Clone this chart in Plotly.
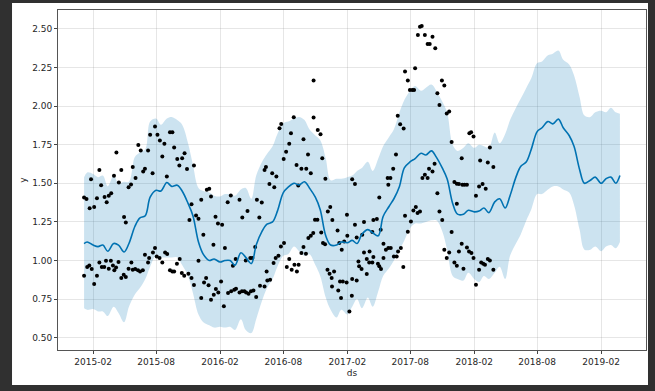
import plotly.graph_objects as go

obs_points = [
    ("2015-01-06", 1.408), ("2015-01-06", 0.901), ("2015-01-13", 1.398), ("2015-01-15", 0.958),
    ("2015-01-21", 0.968), ("2015-01-22", 1.339), ("2015-01-26", 1.527), ("2015-01-28", 0.945),
    ("2015-02-04", 1.346), ("2015-02-04", 0.848), ("2015-02-12", 1.404), ("2015-02-12", 0.901),
    ("2015-02-19", 1.587), ("2015-02-19", 0.987), ("2015-02-24", 1.487), ("2015-02-26", 0.958),
    ("2015-03-05", 0.958), ("2015-03-06", 1.411), ("2015-03-10", 0.998), ("2015-03-12", 1.378),
    ("2015-03-18", 1.419), ("2015-03-18", 0.947), ("2015-03-24", 0.998), ("2015-03-25", 1.436),
    ("2015-03-30", 0.968), ("2015-04-02", 1.549), ("2015-04-03", 0.936), ("2015-04-08", 0.955),
    ("2015-04-09", 1.700), ("2015-04-15", 0.990), ("2015-04-16", 1.505), ("2015-04-23", 1.587),
    ("2015-04-23", 0.886), ("2015-04-30", 0.908), ("2015-05-01", 1.281), ("2015-05-06", 1.246),
    ("2015-05-06", 0.893), ("2015-05-14", 1.475), ("2015-05-14", 0.947), ("2015-05-21", 1.492),
    ("2015-05-22", 0.987), ("2015-05-26", 1.605), ("2015-05-26", 0.940), ("2015-06-02", 0.945),
    ("2015-06-03", 1.534), ("2015-06-10", 0.936), ("2015-06-11", 1.749), ("2015-06-16", 0.929),
    ("2015-06-18", 1.712), ("2015-06-24", 0.936), ("2015-06-25", 1.576), ("2015-06-30", 1.594),
    ("2015-06-30", 1.037), ("2015-07-09", 1.712), ("2015-07-09", 0.987), ("2015-07-12", 1.016),
    ("2015-07-15", 1.814), ("2015-07-22", 1.566), ("2015-07-23", 1.052), ("2015-07-29", 1.868),
    ("2015-07-29", 1.081), ("2015-08-03", 1.026), ("2015-08-05", 1.814), ("2015-08-11", 1.016),
    ("2015-08-12", 1.777), ("2015-08-19", 1.673), ("2015-08-19", 0.987), ("2015-08-25", 1.756),
    ("2015-08-27", 1.052), ("2015-09-01", 1.544), ("2015-09-02", 1.042), ("2015-09-10", 1.831),
    ("2015-09-10", 0.936), ("2015-09-17", 1.831), ("2015-09-17", 0.929), ("2015-09-22", 1.732),
    ("2015-09-22", 0.929), ("2015-09-30", 0.979), ("2015-10-01", 1.657), ("2015-10-07", 1.615),
    ("2015-10-08", 1.009), ("2015-10-14", 0.919), ("2015-10-15", 1.663), ("2015-10-21", 0.901),
    ("2015-10-22", 1.695), ("2015-10-29", 1.592), ("2015-11-02", 0.914), ("2015-11-05", 1.262),
    ("2015-11-11", 1.365), ("2015-11-11", 0.886), ("2015-11-18", 1.615), ("2015-11-18", 0.841),
    ("2015-11-24", 1.292), ("2015-12-01", 1.270), ("2015-12-01", 0.998), ("2015-12-09", 1.393),
    ("2015-12-09", 0.757), ("2015-12-15", 1.167), ("2015-12-17", 0.858), ("2015-12-23", 0.886),
    ("2015-12-25", 1.458), ("2015-12-30", 0.839), ("2016-01-01", 1.464), ("2016-01-06", 1.415),
    ("2016-01-06", 0.746), ("2016-01-13", 1.102), ("2016-01-14", 0.778), ("2016-01-19", 1.283),
    ("2016-01-20", 0.815), ("2016-01-26", 1.240), ("2016-01-27", 0.793), ("2016-02-04", 0.864),
    ("2016-02-07", 1.231), ("2016-02-12", 0.703), ("2016-02-15", 1.081), ("2016-02-23", 1.378),
    ("2016-02-24", 0.789), ("2016-03-03", 1.421), ("2016-03-04", 0.800), ("2016-03-09", 0.966),
    ("2016-03-13", 0.810), ("2016-03-17", 1.009), ("2016-03-18", 0.817), ("2016-03-28", 1.393),
    ("2016-03-28", 0.793), ("2016-04-04", 0.800), ("2016-04-05", 1.279), ("2016-04-11", 0.800),
    ("2016-04-15", 1.000), ("2016-04-16", 0.793), ("2016-04-20", 1.320), ("2016-04-23", 0.785),
    ("2016-04-28", 1.016), ("2016-04-30", 0.800), ("2016-05-04", 1.016), ("2016-05-07", 0.806),
    ("2016-05-12", 1.087), ("2016-05-15", 0.763), ("2016-05-17", 1.393), ("2016-05-24", 1.279),
    ("2016-05-26", 0.837), ("2016-05-31", 1.376), ("2016-06-08", 1.587), ("2016-06-08", 0.832),
    ("2016-06-12", 1.605), ("2016-06-14", 0.929), ("2016-06-16", 0.871), ("2016-06-22", 1.495),
    ("2016-06-24", 0.875), ("2016-06-30", 1.566), ("2016-07-04", 0.983), ("2016-07-06", 1.475),
    ("2016-07-10", 1.016), ("2016-07-12", 1.544), ("2016-07-18", 1.031), ("2016-07-21", 1.857),
    ("2016-07-25", 1.091), ("2016-07-26", 1.885), ("2016-08-02", 1.657), ("2016-08-03", 1.113),
    ("2016-08-09", 1.704), ("2016-08-11", 0.958), ("2016-08-18", 1.756), ("2016-08-18", 1.009),
    ("2016-08-23", 1.825), ("2016-08-25", 0.940), ("2016-08-31", 1.928), ("2016-09-02", 0.972),
    ("2016-09-08", 1.618), ("2016-09-09", 0.929), ("2016-09-13", 1.486), ("2016-09-14", 0.972),
    ("2016-09-22", 1.594), ("2016-09-22", 1.048), ("2016-09-28", 1.786), ("2016-09-28", 1.087),
    ("2016-10-05", 1.044), ("2016-10-06", 1.594), ("2016-10-11", 1.686), ("2016-10-12", 1.145),
    ("2016-10-19", 1.566), ("2016-10-19", 1.160), ("2016-10-26", 1.178), ("2016-10-27", 1.926),
    ("2016-10-27", 2.166), ("2016-10-31", 1.264), ("2016-11-07", 1.264), ("2016-11-08", 1.846),
    ("2016-11-16", 1.818), ("2016-11-18", 1.182), ("2016-11-21", 1.663), ("2016-11-23", 1.113),
    ("2016-11-29", 1.106), ("2016-11-30", 1.529), ("2016-12-06", 0.940), ("2016-12-07", 1.318),
    ("2016-12-12", 0.914), ("2016-12-14", 1.346), ("2016-12-18", 0.886), ("2016-12-19", 0.832),
    ("2016-12-20", 1.262), ("2016-12-25", 0.929), ("2017-01-04", 1.195), ("2017-01-06", 0.806),
    ("2017-01-09", 1.113), ("2017-01-11", 0.864), ("2017-01-14", 0.757), ("2017-01-16", 1.069),
    ("2017-01-19", 0.864), ("2017-01-23", 1.123), ("2017-01-30", 0.858), ("2017-01-31", 1.296),
    ("2017-02-01", 1.160), ("2017-02-07", 0.670), ("2017-02-14", 0.772), ("2017-02-15", 0.880),
    ("2017-02-15", 1.527), ("2017-02-23", 1.495), ("2017-02-23", 1.231), ("2017-02-28", 0.871),
    ("2017-02-28", 1.149), ("2017-03-05", 0.994), ("2017-03-07", 0.962), ("2017-03-14", 0.945),
    ("2017-03-16", 1.167), ("2017-03-21", 1.052), ("2017-03-21", 1.249), ("2017-03-29", 1.009),
    ("2017-03-29", 0.912), ("2017-04-05", 0.987), ("2017-04-06", 1.058), ("2017-04-14", 0.987),
    ("2017-04-14", 1.184), ("2017-04-17", 1.022), ("2017-04-17", 1.262), ("2017-04-27", 1.268),
    ("2017-04-30", 0.979), ("2017-05-04", 1.408), ("2017-05-04", 0.962), ("2017-05-08", 1.199),
    ("2017-05-09", 0.945), ("2017-05-16", 1.108), ("2017-05-16", 1.016), ("2017-05-23", 1.069),
    ("2017-05-28", 1.534), ("2017-05-30", 1.490), ("2017-05-30", 1.081), ("2017-06-05", 1.534),
    ("2017-06-06", 1.081), ("2017-06-13", 1.594), ("2017-06-15", 1.026), ("2017-06-21", 1.686),
    ("2017-06-23", 1.026), ("2017-06-26", 1.937), ("2017-06-27", 1.058), ("2017-07-03", 1.883),
    ("2017-07-05", 1.081), ("2017-07-12", 0.958), ("2017-07-13", 1.855), ("2017-07-17", 2.224),
    ("2017-07-17", 1.290), ("2017-07-25", 2.166), ("2017-07-25", 1.186), ("2017-07-31", 2.105),
    ("2017-08-03", 1.253), ("2017-08-07", 2.105), ("2017-08-10", 1.324), ("2017-08-12", 2.105),
    ("2017-08-15", 2.246), ("2017-08-17", 1.346), ("2017-08-22", 1.307), ("2017-08-23", 2.461),
    ("2017-08-29", 2.515), ("2017-08-29", 1.318), ("2017-09-03", 2.519), ("2017-09-05", 1.534),
    ("2017-09-12", 2.461), ("2017-09-12", 1.555), ("2017-09-20", 2.403), ("2017-09-20", 1.534),
    ("2017-09-24", 1.594), ("2017-09-26", 2.403), ("2017-10-04", 2.450), ("2017-10-04", 1.576),
    ("2017-10-10", 1.626), ("2017-10-12", 2.375), ("2017-10-18", 2.084), ("2017-10-18", 1.436),
    ("2017-10-24", 2.008), ("2017-10-24", 1.318), ("2017-10-31", 2.166), ("2017-11-01", 1.262),
    ("2017-11-07", 2.133), ("2017-11-07", 1.069), ("2017-11-14", 1.952), ("2017-11-14", 1.016),
    ("2017-11-21", 1.965), ("2017-11-21", 1.052), ("2017-11-28", 1.767), ("2017-11-28", 1.184),
    ("2017-12-06", 1.508), ("2017-12-06", 0.987), ("2017-12-13", 1.497), ("2017-12-13", 1.367),
    ("2017-12-13", 0.966), ("2017-12-19", 1.495), ("2017-12-19", 1.058), ("2017-12-27", 1.663),
    ("2017-12-27", 1.108), ("2017-12-29", 1.490), ("2018-01-01", 0.947), ("2018-01-04", 1.490),
    ("2018-01-11", 1.490), ("2018-01-11", 1.084), ("2018-01-17", 1.058), ("2018-01-18", 1.825),
    ("2018-01-23", 1.831), ("2018-01-24", 1.048), ("2018-01-30", 1.803), ("2018-01-30", 1.016),
    ("2018-02-06", 1.419), ("2018-02-06", 0.843), ("2018-02-15", 1.479), ("2018-02-15", 0.940),
    ("2018-02-18", 1.648), ("2018-02-21", 0.987), ("2018-02-25", 1.495), ("2018-02-27", 0.979),
    ("2018-03-04", 0.972), ("2018-03-06", 1.464), ("2018-03-12", 1.635), ("2018-03-12", 1.009),
    ("2018-03-18", 1.732), ("2018-03-18", 1.000), ("2018-03-28", 1.605), ("2018-03-28", 0.940),
]

# ---- forecast (sampled twice a month) ----
fc_ds = ["2015-01-06", "2015-01-15"]
for yr in range(2015, 2020):
    for mo in range(1, 13):
        if (yr == 2015 and mo == 1) or (yr == 2019 and mo > 3):
            continue
        fc_ds += [f"{yr}-{mo:02d}-01", f"{yr}-{mo:02d}-15"]
fc_ds.append("2019-03-27")

yhat = [
    1.11, 1.12, 1.10, 1.09, 1.10, 1.06, 1.11, 1.10, 1.055, 1.11, 1.22, 1.275,
    1.29, 1.41, 1.455, 1.45, 1.505, 1.48, 1.488, 1.45, 1.37, 1.29, 1.12, 1.04,
    1.00, 1.01, 0.99, 1.00, 1.00, 0.97, 1.05, 1.02, 0.98, 1.10, 1.19, 1.235,
    1.25, 1.32, 1.44, 1.475, 1.50, 1.49, 1.51, 1.47, 1.41, 1.33, 1.16, 1.10,
    1.10, 1.12, 1.115, 1.13, 1.11, 1.17, 1.20, 1.18, 1.16, 1.285, 1.35, 1.40,
    1.48, 1.60, 1.64, 1.66, 1.695, 1.684, 1.71, 1.67, 1.60, 1.53, 1.37, 1.30,
    1.30, 1.325, 1.315, 1.32, 1.34, 1.31, 1.38, 1.40, 1.34, 1.42, 1.54, 1.61,
    1.64, 1.72, 1.835, 1.86, 1.90, 1.885, 1.916, 1.86, 1.81, 1.74, 1.59, 1.50,
    1.52, 1.54, 1.50, 1.53, 1.54, 1.50, 1.55,
]
yhat_upper = [
    1.54, 1.57, 1.56, 1.54, 1.55, 1.48, 1.55, 1.50, 1.51, 1.51, 1.67, 1.70,
    1.72, 1.90, 1.92, 1.88, 1.92, 1.93, 1.91, 1.88, 1.76, 1.62, 1.47, 1.45,
    1.44, 1.42, 1.415, 1.43, 1.43, 1.42, 1.46, 1.47, 1.40, 1.55, 1.64, 1.69,
    1.74, 1.82, 1.89, 1.90, 1.92, 1.93, 1.91, 1.85, 1.81, 1.78, 1.66, 1.52,
    1.53, 1.53, 1.54, 1.55, 1.58, 1.60, 1.64, 1.58, 1.66, 1.74, 1.80, 1.85,
    1.96, 2.04, 2.10, 2.13, 2.10, 2.12, 2.14, 2.10, 2.03, 1.96, 1.75, 1.71,
    1.73, 1.76, 1.73, 1.75, 1.74, 1.73, 1.83, 1.76, 1.82, 1.91, 1.99, 2.05,
    2.12, 2.18, 2.28, 2.29, 2.33, 2.34, 2.36, 2.30, 2.27, 2.20, 2.06, 1.94,
    1.93, 1.96, 1.97, 1.96, 1.99, 1.96, 1.95,
]
yhat_lower = [
    0.69, 0.68, 0.685, 0.67, 0.67, 0.64, 0.70, 0.66, 0.60, 0.70, 0.78, 0.82,
    0.88, 0.96, 1.03, 1.02, 1.02, 1.02, 1.02, 0.97, 0.90, 0.79, 0.65, 0.60,
    0.58, 0.565, 0.57, 0.565, 0.57, 0.55, 0.62, 0.55, 0.53, 0.62, 0.74, 0.82,
    0.88, 0.96, 1.03, 1.04, 1.09, 1.06, 1.03, 1.04, 0.97, 0.90, 0.76, 0.68,
    0.63, 0.68, 0.65, 0.70, 0.75, 0.69, 0.76, 0.70, 0.80, 0.90, 0.95, 1.00,
    1.07, 1.13, 1.21, 1.24, 1.24, 1.25, 1.26, 1.26, 1.19, 1.07, 0.90, 0.88,
    0.87, 0.92, 0.88, 0.86, 0.90, 0.88, 0.92, 0.96, 0.88, 1.03, 1.11, 1.17,
    1.26, 1.33, 1.43, 1.43, 1.46, 1.48, 1.48, 1.46, 1.44, 1.36, 1.20, 1.07,
    1.07, 1.09, 1.06, 1.09, 1.10, 1.08, 1.12,
]

x_tick_vals = ["2015-02-01", "2015-08-01", "2016-02-01", "2016-08-01", "2017-02-01",
               "2017-08-01", "2018-02-01", "2018-08-01", "2019-02-01"]
x_tick_text = ["2015-02", "2015-08", "2016-02", "2016-08", "2017-02",
               "2017-08", "2018-02", "2018-08", "2019-02"]
y_tick_vals = [0.50, 0.75, 1.00, 1.25, 1.50, 1.75, 2.00, 2.25, 2.50]

obs_ds = [p[0] for p in obs_points]
obs_y = [p[1] for p in obs_points]

BLUE = "#0072B2"
DARK = "#303030"
fig = go.Figure()
fig.add_trace(go.Scatter(x=fc_ds, y=yhat_upper, mode="lines", line=dict(width=0, shape="spline"),
                         hoverinfo="skip", showlegend=False))
fig.add_trace(go.Scatter(x=fc_ds, y=yhat_lower, mode="lines", line=dict(width=0, shape="spline"),
                         fill="tonexty", fillcolor="rgba(0,114,178,0.2)", showlegend=False))
fig.add_trace(go.Scatter(x=obs_ds, y=obs_y, mode="markers",
                         marker=dict(color="black", size=4), showlegend=False))
fig.add_trace(go.Scatter(x=fc_ds, y=yhat, mode="lines",
                         line=dict(color=BLUE, width=1.6, shape="spline"), showlegend=False))

font = dict(family="DejaVu Sans", size=9, color="#262626")
fig.update_layout(
    width=655, height=391,
    margin=dict(l=58, r=9, t=10, b=41, autoexpand=False),
    paper_bgcolor=DARK,
    plot_bgcolor="white",
    font=font,
    shapes=[dict(type="rect", xref="paper", yref="paper",
                 x0=-0.0782, x1=1.0034, y0=-0.103, y1=1.0206,
                 fillcolor="white", line=dict(width=0), layer="below")],
)
fig.update_xaxes(
    range=["2014-10-23", "2019-06-10"], automargin=False,
    tickvals=x_tick_vals, ticktext=x_tick_text,
    ticks="outside", ticklen=3, tickcolor="#444",
    showgrid=True, gridcolor="rgba(128,128,128,0.2)", gridwidth=1,
    showline=True, mirror=True, linecolor="#555", linewidth=1,
    zeroline=False, tickfont=font,
    title=dict(text="ds", font=font, standoff=3),
)
fig.update_yaxes(
    range=[0.42, 2.623], automargin=False,
    tickvals=y_tick_vals, tickformat=".2f",
    ticks="outside", ticklen=3, tickcolor="#444",
    showgrid=True, gridcolor="rgba(128,128,128,0.2)", gridwidth=1,
    showline=True, mirror=True, linecolor="#555", linewidth=1,
    zeroline=False, tickfont=font,
    title=dict(text="y", font=font, standoff=4),
)

fig.write_html(
    "out.html",
    config={"displayModeBar": False},
    post_script=f"document.body.style.margin='0px';document.body.style.backgroundColor='{DARK}';",
)
